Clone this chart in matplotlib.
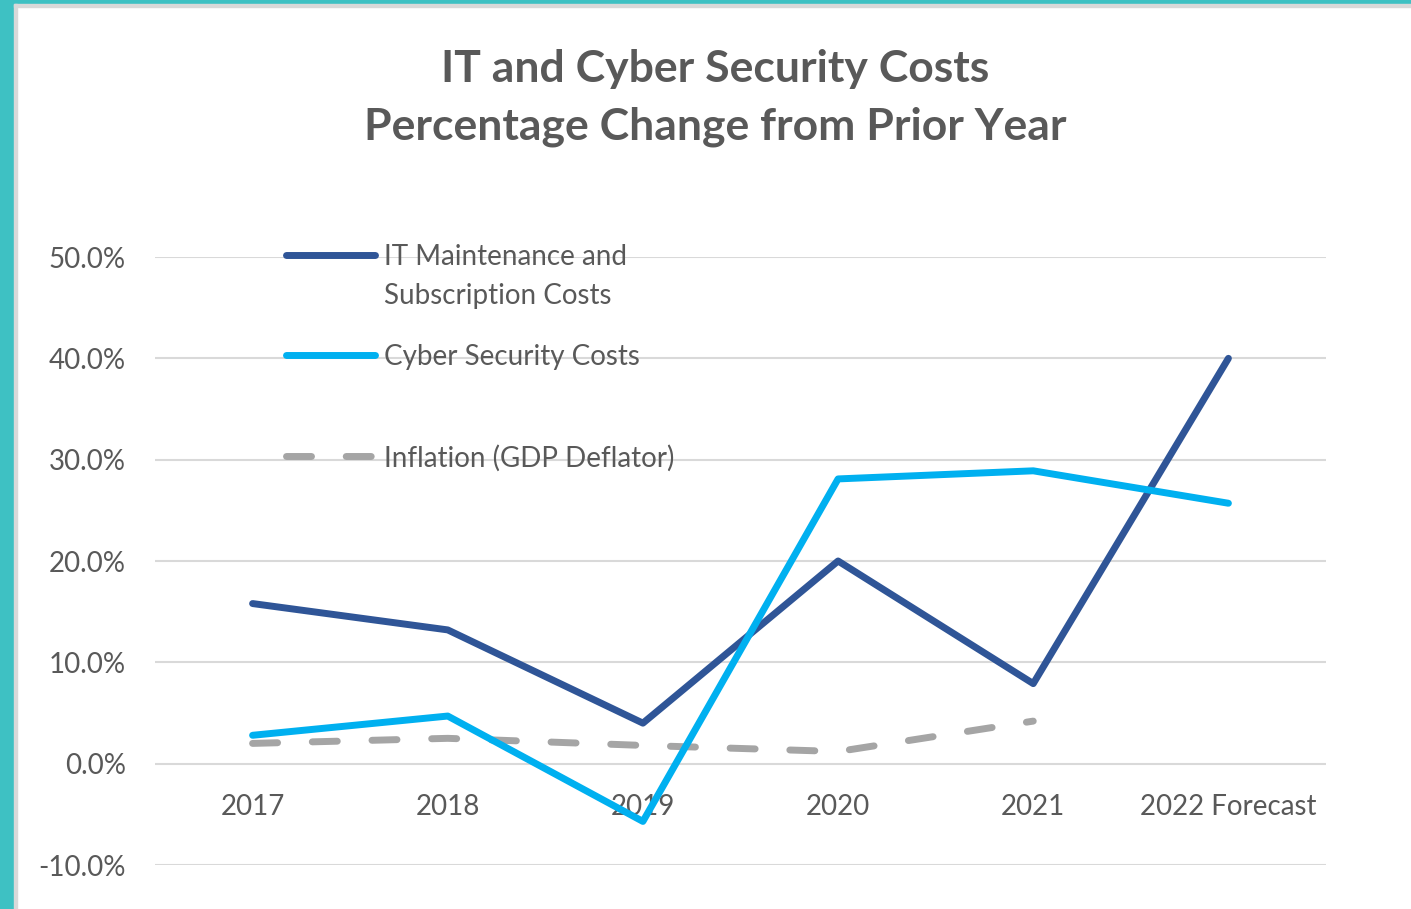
import numpy as np
import matplotlib
matplotlib.use("Agg")
import matplotlib.pyplot as plt
from matplotlib.patches import Rectangle
from matplotlib.lines import Line2D
from matplotlib.ticker import FuncFormatter

# data (percent change from prior year)
years = ['2017', '2018', '2019', '2020', '2021', '2022 Forecast']
it_maint = [15.8, 13.2, 4.0, 20.0, 7.9, 40.0]
cyber = [2.8, 4.7, -5.7, 28.1, 28.9, 25.7]
inflation = [2.0, 2.5, 1.8, 1.2, 4.2]  # no 2022 value

series_labels = ['IT Maintenance and\nSubscription Costs',
                 'Cyber Security Costs',
                 'Inflation (GDP Deflator)']

plt.rcParams['font.family'] = ['Lato', 'DejaVu Sans']
text_grey = '#595959'
c_it = '#2F5597'
c_cyber = '#00B0F0'
c_infl = '#A5A5A5'

fig = plt.figure(figsize=(14.11, 9.09), dpi=100)
fig.patch.set_facecolor('white')

# teal frame on the left and top, with a thin grey shadow
fig.add_artist(Rectangle((0, 0), 14 / 1411, 1, transform=fig.transFigure,
                         color='#3EC1C3', zorder=0))
fig.add_artist(Rectangle((0, 1 - 4 / 909), 1, 4 / 909, transform=fig.transFigure,
                         color='#3EC1C3', zorder=0))
fig.add_artist(Rectangle((14 / 1411, 0), 3 / 1411, 1 - 4 / 909, transform=fig.transFigure,
                         color='#D9D9D9', zorder=0))
fig.add_artist(Rectangle((14 / 1411, 1 - 7 / 909), 1, 3 / 909, transform=fig.transFigure,
                         color='#D9D9D9', zorder=0))

ax = fig.add_axes([155 / 1411, 44 / 909, 1171 / 1411, 608 / 909])
ax.set_facecolor('none')

x = np.arange(len(years))
ax.plot(x, it_maint, color=c_it, lw=5, solid_capstyle='round', solid_joinstyle='round', zorder=3)
ax.plot(x, cyber, color=c_cyber, lw=5, solid_capstyle='round', solid_joinstyle='round', zorder=4)
infl_line, = ax.plot(x[:len(inflation)], inflation, color=c_infl, lw=5,
                     dash_capstyle='round', zorder=2)
infl_line.set_dashes([3.6, 5.0])

ax.set_xlim(-0.5, len(years) - 0.5)
ax.set_ylim(-10, 50)
ax.set_yticks(np.arange(-10, 51, 10))
ax.yaxis.set_major_formatter(FuncFormatter(lambda v, p: f'{v:.1f}%'))
ax.grid(axis='y', color='#D9D9D9', lw=1.5, zorder=1)
ax.set_axisbelow(True)
for s in ['top', 'right', 'left']:
    ax.spines[s].set_visible(False)
ax.spines['bottom'].set_position(('data', 0))
ax.spines['bottom'].set_visible(False)

ax.set_xticks(x)
ax.set_xticklabels(years)
ax.tick_params(axis='x', length=0, pad=22, labelsize=20, labelcolor=text_grey)
ax.tick_params(axis='y', length=0, pad=21, labelsize=20, labelcolor=text_grey)

# title
fig.text(715 / 1411, 1 - 98 / 909,
         'IT and Cyber Security Costs\nPercentage Change from Prior Year',
         ha='center', va='center', fontsize=32, fontweight='bold',
         color=text_grey, linespacing=1.55)

# legend drawn like the Excel one: key aligned with first text line
legend_y = [255, 355, 456]
styles = [dict(color=c_it), dict(color=c_cyber), dict(color=c_infl, dashes=[3.6, 5.0])]
for lab, yy, st in zip(series_labels, legend_y, styles):
    yf = 1 - yy / 909
    ln = Line2D([286 / 1411, 375 / 1411], [yf, yf], transform=fig.transFigure,
                lw=5, solid_capstyle='round', dash_capstyle='round', **st)
    fig.add_artist(ln)
    fig.text(384 / 1411, 1 - (yy - 11) / 909, lab, ha='left', va='top', fontsize=20,
             color=text_grey, linespacing=1.6)

fig.savefig('out.png', dpi=100, facecolor='white')
